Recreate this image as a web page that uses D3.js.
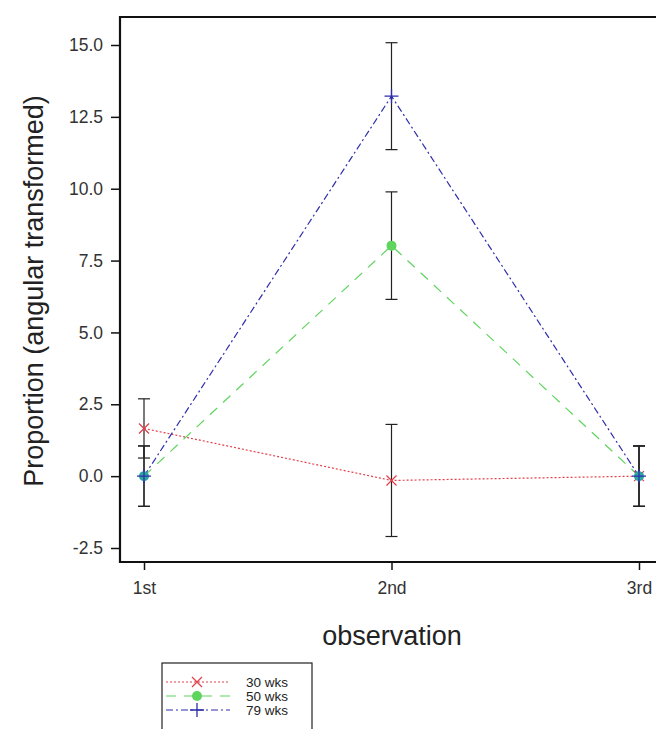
<!DOCTYPE html>
<html><head><meta charset="utf-8">
<script src="https://cdn.jsdelivr.net/npm/d3@7"></script>
<style>body{margin:0;background:#fff}svg{display:block}text{font-family:"Liberation Sans",Arial,sans-serif}</style>
</head><body>
<svg id="c" width="656" height="729"></svg>
<script>
const categories = ["1st","2nd","3rd"];
const yTicks = [-2.5,0,2.5,5,7.5,10,12.5,15];
const seriesNames = ["30 wks","50 wks","79 wks"];
const wk30 = [1.66, -0.15, 0.0];
const wk30Err = [1.03, 1.95, 1.05];
const wk50 = [0.0, 8.02, 0.0];
const wk50Err = [1.05, 1.87, 1.05];
const wk79 = [0.0, 13.22, 0.0];
const wk79Err = [1.05, 1.86, 1.05];

const svg = d3.select("#c");
const x = d3.scalePoint().domain(categories).range([144, 639]);
const y = d3.scaleLinear().domain([-2.5, 15]).range([548, 45]);

const series = [
  {name: seriesNames[0], v: wk30, e: wk30Err, color: "#e2404c", dash: "2,2", w: 1.2, marker: "x"},
  {name: seriesNames[1], v: wk50, e: wk50Err, color: "#5fd45f", dash: "10,8", w: 1.2, marker: "circle"},
  {name: seriesNames[2], v: wk79, e: wk79Err, color: "#2e2eaa", dash: "7,3,2,3", w: 1.2, marker: "plus"}
];

const tickFont = 17.5;
const fmt = d => d.toFixed(1);
// frame
svg.append("line").attr("x1",120).attr("x2",660).attr("y1",17).attr("y2",17).attr("stroke","#111").attr("stroke-width",2.2);
// axes
const yAxis = d3.axisLeft(y).tickValues(yTicks).tickFormat(fmt).tickSize(9).tickPadding(8);
const gy = svg.append("g").attr("transform","translate(120,0)").call(yAxis);
gy.select(".domain").remove();
gy.selectAll(".tick line").attr("stroke","#111").attr("stroke-width",1.5);
gy.selectAll(".tick text").attr("font-size",tickFont).attr("fill","#333").attr("font-family","Liberation Sans, Arial, sans-serif");
svg.append("line").attr("x1",120).attr("x2",120).attr("y1",16).attr("y2",563).attr("stroke","#111").attr("stroke-width",2.2);

const xAxis = d3.axisBottom(x).tickSize(8).tickPadding(12);
const gx = svg.append("g").attr("transform","translate(0,562)").call(xAxis);
gx.select(".domain").remove();
gx.selectAll(".tick line").attr("stroke","#111").attr("stroke-width",1.5);
gx.selectAll(".tick text").attr("font-size",tickFont).attr("fill","#333").attr("font-family","Liberation Sans, Arial, sans-serif");
svg.append("line").attr("x1",119).attr("x2",660).attr("y1",562).attr("y2",562).attr("stroke","#111").attr("stroke-width",2.2);

// titles
svg.append("text").attr("transform","translate(43,291) rotate(-90)").attr("text-anchor","middle")
  .attr("font-size",27).attr("fill","#222").text("Proportion (angular transformed)");
svg.append("text").attr("x",392).attr("y",645).attr("text-anchor","middle")
  .attr("font-size",27).attr("fill","#222").text("observation");

// lines
const line = d3.line().x((d,i)=>x(categories[i])).y(d=>y(d));
series.forEach(s=>{
  svg.append("path").datum(s.v).attr("d",line).attr("fill","none")
    .attr("stroke",s.color).attr("stroke-width",s.w).attr("stroke-dasharray",s.dash);
});

// error bars
series.forEach(s=>{
  s.v.forEach((v,i)=>{
    const cx = x(categories[i]);
    const g = svg.append("g").attr("stroke","#222").attr("stroke-width",1.2);
    g.append("line").attr("x1",cx).attr("x2",cx).attr("y1",y(v+s.e[i])).attr("y2",y(v-s.e[i]));
    [v+s.e[i], v-s.e[i]].forEach(t=>g.append("line").attr("x1",cx-6).attr("x2",cx+6).attr("y1",y(t)).attr("y2",y(t)));
  });
});

function drawMarker(g, type, cx, cy, color){
  if(type==="x"){
    g.append("path").attr("d",`M${cx-5},${cy-5}L${cx+5},${cy+5}M${cx-5},${cy+5}L${cx+5},${cy-5}`)
      .attr("stroke",color).attr("stroke-width",1.3).attr("fill","none");
  } else if(type==="circle"){
    g.append("circle").attr("cx",cx).attr("cy",cy).attr("r",5).attr("fill",color);
  } else {
    g.append("path").attr("d",`M${cx-7},${cy}L${cx+7},${cy}M${cx},${cy-7}L${cx},${cy+7}`)
      .attr("stroke",color).attr("stroke-width",1.3).attr("fill","none");
  }
}
series.forEach(s=>{
  s.v.forEach((v,i)=>{
    const c = (s.marker==="circle" && v===0) ? "#2aa6a0" : s.color;
    drawMarker(svg, s.marker, x(categories[i]), y(v), c);
  });
});

// legend
const lg = svg.append("g");
lg.append("rect").attr("x",162).attr("y",663).attr("width",150).attr("height",80)
  .attr("fill","#fff").attr("stroke","#222").attr("stroke-width",1.2);
series.forEach((s,i)=>{
  const ly = 682 + i*14;
  lg.append("line").attr("x1",166).attr("x2",230).attr("y1",ly).attr("y2",ly)
    .attr("stroke",s.color).attr("stroke-width",1.2).attr("stroke-dasharray",s.dash);
  drawMarker(lg, s.marker, 197, ly, s.color);
  lg.append("text").attr("x",246).attr("y",ly+4.5).attr("font-size",13.5).attr("fill","#222").text(s.name);
});
</script>
</body></html>
